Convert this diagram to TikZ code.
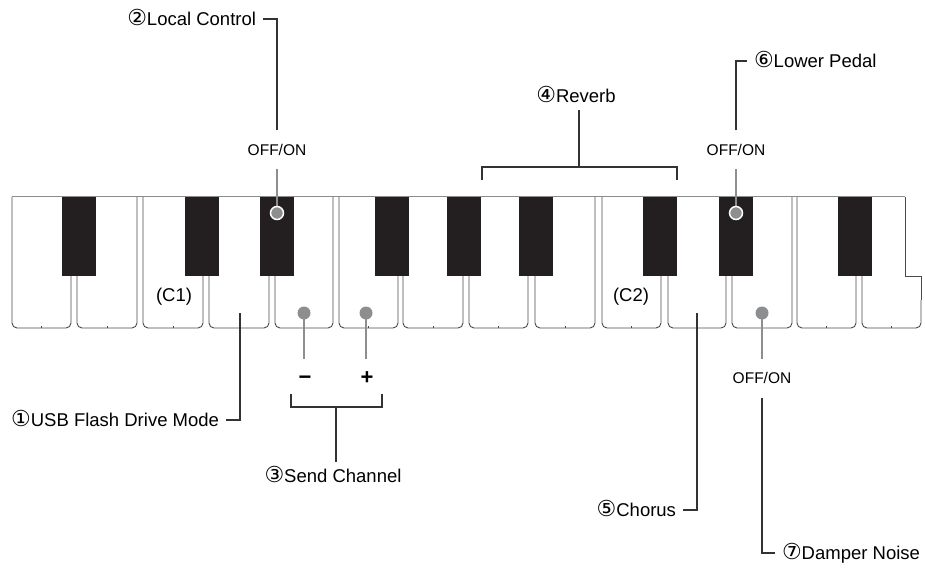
\documentclass[tikz,border=0pt]{standalone}
\usepackage{fontspec}
\setmainfont{Liberation Sans}
\newfontfamily\circfont{DejaVu Sans}
\newcommand\cnum[1]{{\circfont\fontsize{22}{22}\selectfont #1}}

\definecolor{keyline}{HTML}{4A4A4A}
\definecolor{topgrey}{HTML}{8C8C8C}
\definecolor{blackkey}{HTML}{231F20}
\definecolor{pingrey}{HTML}{8D8E90}
\definecolor{connline}{HTML}{333333}

\tikzset{
  lbl/.style={inner sep=0, outer sep=7pt, text height=13.2pt, text depth=0pt,
    font=\fontsize{18.5}{20}\selectfont},
  offon/.style={inner sep=0, outer sep=14pt, text height=11pt, text depth=0pt,
    font=\fontsize{15.5}{17}\selectfont},
  sign/.style={inner sep=0, outer sep=10.3pt, text height=15.4pt, text depth=0pt,
    font=\fontsize{22}{24}\selectfont\bfseries},
  conn/.style={connline, line width=1.2pt},
  pin/.style={pingrey, line width=2.2pt},
}

\begin{document}
\begin{tikzpicture}[x=1pt, y=-1pt]
\useasboundingbox (0,0) rectangle (925,569);

% Белые клавиши
\foreach \l/\r in {12/71, 77/137, 143/203, 209/269, 275/333, 339/398, 403/463,
                   469/528, 535/595, 602/661, 668/726, 732/792, 797/856} {
  \draw[keyline, line width=0.9pt, rounded corners=5] (\l,197) -- (\l,328) -- (\r,328) -- (\r,197);
  \draw[keyline, line width=0.6pt] ({(\l+\r)/2},328) -- ++(0,-2);
}
% последняя клавиша (с вырезом)
\draw[keyline, line width=0.9pt, rounded corners=5] (862,197) -- (862,328) -- (921,328) -- (921,300);
\draw[keyline, line width=0.9pt] (921,300) -- (921,276) -- (905,276) -- (905,197);
\draw[keyline, line width=0.6pt] (891.5,328) -- ++(0,-2);
\draw[topgrey, line width=1pt] (12,197) -- (905,197);

% Чёрные клавиши
\foreach \l in {62, 185, 260, 375, 447, 519, 643, 719, 838}
  \fill[blackkey] (\l,197) rectangle ++(34,79);

\node[lbl] (c1) at (174,295) {(C1)};
\node[lbl] (c2) at (631,295) {(C2)};

% Точки на клавишах
\coordinate (usbpt) at (240,313);
\coordinate (locpt) at (277,213);
\coordinate (minpt) at (304,313);
\coordinate (pluspt) at (366,313);
\coordinate (chopt) at (697,313);
\coordinate (lppt) at (736,213);
\coordinate (dnpt) at (762,313);

% Подписи
\node[lbl, anchor=east] (usb) at (226,420) {\cnum{①}USB Flash Drive Mode};
\node[lbl, anchor=east] (loc) at (263,19) {\cnum{②}Local Control};
\node[offon] (locoff) at (277,150) {OFF/ON};
\node[sign] (minus) at (305,377) {−};
\node[sign] (plus) at (367,377) {+};
\node[lbl] (send) at (333,476) {\cnum{③}Send Channel};
\node[lbl] (rev) at (576,96) {\cnum{④}Reverb};
\node[lbl, anchor=east] (chorus) at (683,510) {\cnum{⑤}Chorus};
\node[offon] (lpoff) at (736,150) {OFF/ON};
\node[lbl, anchor=west] (lower) at (747,61) {\cnum{⑥}Lower Pedal};
\node[offon] (dnoff) at (762,378) {OFF/ON};
\node[lbl, anchor=west] (damper) at (775,553) {\cnum{⑦}Damper Noise};

% Скобки
\coordinate (revl) at (482,180);
\coordinate (revr) at (677,180);
\coordinate (revm) at (579,167);
\coordinate (sendl) at (291,394);
\coordinate (sendr) at (382,394);
\coordinate (sendm) at (336,407);

% Линии-выноски
\draw[conn] (usbpt) |- (usb.east);
\draw[conn] (locoff.north) |- (loc.east);
\draw[conn] (revl) -- ++(0,-13) -| (revr);
\draw[conn] (revm) -- (revm |- rev.south);
\draw[conn] (sendl) -- ++(0,13) -| (sendr);
\draw[conn] (sendm) -- (sendm |- send.north);
\draw[conn] (chopt) |- (chorus.east);
\draw[conn] (lpoff.north) |- (lower.west);
\draw[conn] (dnoff.south) |- (damper.west);

% Серые указатели
\draw[pin] (locpt) -- (locpt |- locoff.south);
\draw[pin] (lppt) -- (lppt |- lpoff.south);
\draw[pin] (minpt) -- (minpt |- minus.north);
\draw[pin] (pluspt) -- (pluspt |- plus.north);
\draw[pin] (dnpt) -- (dnpt |- dnoff.north);

\foreach \p in {minpt, pluspt, dnpt}
  \fill[pingrey] (\p) circle (6.5);
\foreach \p in {locpt, lppt}
  \filldraw[fill=pingrey, draw=white, line width=1.5pt] (\p) circle (6.5);
\end{tikzpicture}
\end{document}
